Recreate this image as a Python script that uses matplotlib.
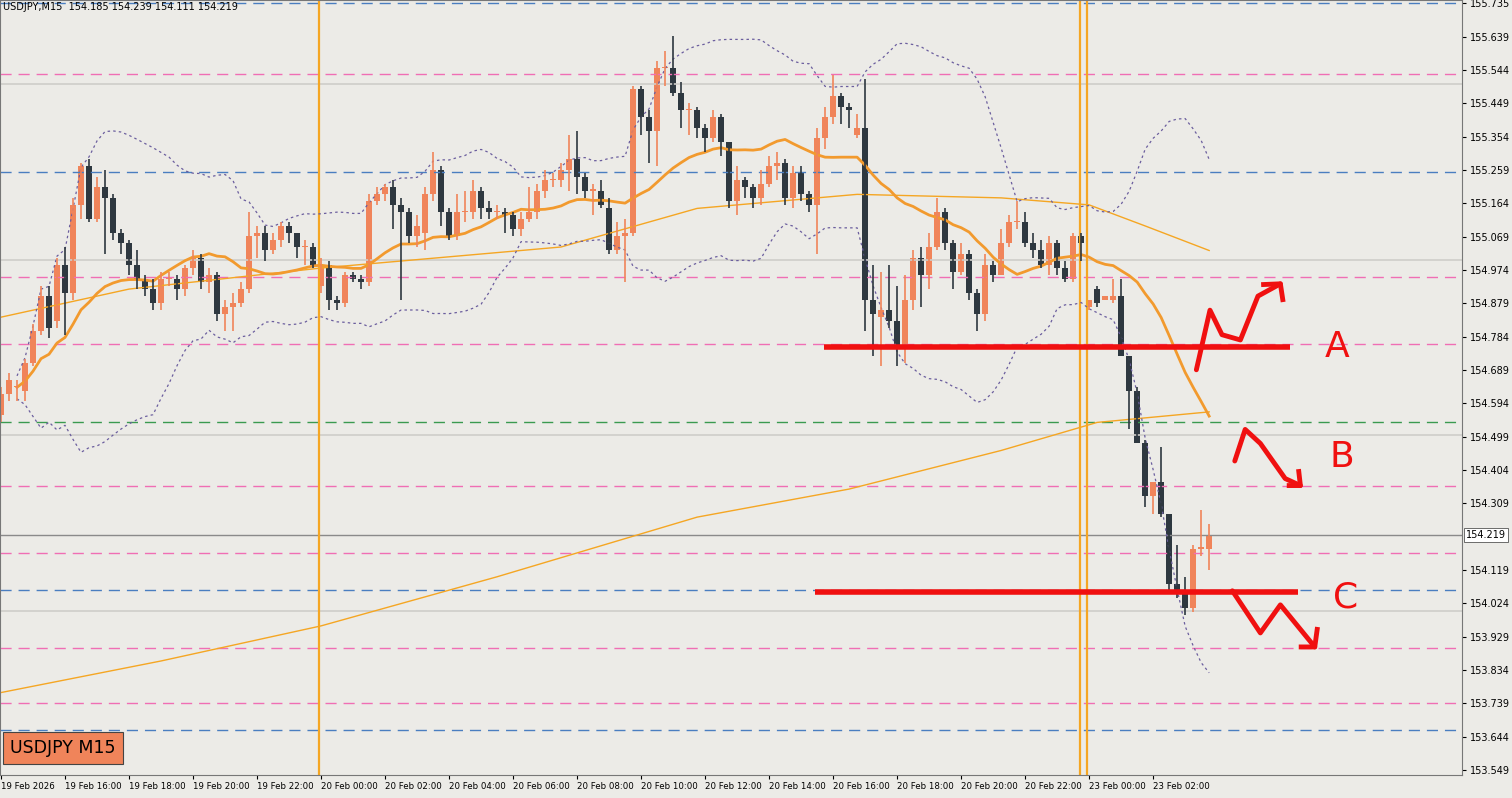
import numpy as np
import pandas as pd
import matplotlib
matplotlib.use("Agg")
import matplotlib.pyplot as plt

# M15 candles from 19 Feb 2026 14:00, index k (weekend gap removed)
opens = [154.56,154.62,154.64,154.63,154.71,154.80,154.90,154.83,154.99,154.91,
         155.16,155.27,155.12,155.21,155.18,155.08,155.05,154.99,154.95,154.92,
         154.88,154.95,154.95,154.92,154.98,155.01,154.94,154.96,154.85,154.87,
         154.88,154.92,155.07,155.08,155.03,155.06,155.10,155.08,155.04,155.04,
         154.93,154.99,154.89,154.88,154.96,154.95,154.94,155.17,155.19,155.21,
         155.16,155.14,155.07,155.08,155.19,155.26,155.14,155.07,155.14,155.14,
         155.20,155.15,155.14,155.14,155.13,155.09,155.12,155.14,155.20,155.23,
         155.23,155.26,155.29,155.24,155.20,155.20,155.15,155.03,155.07,155.08,
         155.49,155.41,155.37,155.55,155.55,155.48,155.43,155.43,155.38,155.35,
         155.41,155.34,155.17,155.23,155.21,155.18,155.22,155.27,155.28,155.18,
         155.25,155.19,155.16,155.35,155.41,155.47,155.44,155.36,155.38,154.89,
         154.84,154.86,154.83,154.75,154.89,155.01,154.96,155.04,155.14,155.05,
         154.97,155.02,154.91,154.85,154.99,154.96,155.05,155.11,155.11,155.05,
         155.03,154.99,155.05,154.98,154.95,155.07,154.87,154.92,154.89,154.89,
         154.90,154.73,154.63,154.48,154.33,154.37,154.28,154.08,154.05,154.01,
         154.18,154.18]
closes = [154.62,154.66,154.64,154.71,154.80,154.90,154.81,154.99,154.91,155.16,
          155.27,155.12,155.21,155.18,155.08,155.05,154.99,154.95,154.92,154.88,
          154.95,154.95,154.92,154.98,155.01,154.94,154.96,154.85,154.87,154.88,
          154.92,155.07,155.08,155.03,155.06,155.10,155.08,155.04,155.04,154.99,
          154.99,154.89,154.88,154.96,154.95,154.94,155.17,155.19,155.21,155.16,
          155.14,155.07,155.10,155.19,155.26,155.14,155.07,155.14,155.14,155.20,
          155.15,155.14,155.14,155.13,155.09,155.12,155.14,155.20,155.23,155.23,
          155.26,155.29,155.24,155.20,155.20,155.16,155.03,155.07,155.08,155.49,
          155.41,155.37,155.55,155.55,155.48,155.43,155.43,155.38,155.35,155.41,
          155.34,155.17,155.23,155.21,155.18,155.22,155.27,155.28,155.18,155.25,
          155.19,155.16,155.35,155.41,155.47,155.44,155.43,155.38,154.89,154.85,
          154.86,154.83,154.75,154.89,155.01,154.96,155.04,155.14,155.05,154.97,
          155.02,154.91,154.85,154.99,154.96,155.05,155.11,155.11,155.05,155.03,
          154.99,155.05,154.98,154.95,155.07,155.05,154.89,154.88,154.90,154.90,
          154.73,154.63,154.48,154.33,154.37,154.28,154.08,154.05,154.01,154.18,
          154.18,154.219]
highs = [154.64,154.68,154.66,154.72,154.82,154.93,154.93,155.01,155.04,155.18,
         155.28,155.29,155.24,155.26,155.19,155.09,155.06,155.03,154.96,154.95,
         154.97,154.97,154.96,154.99,155.03,155.02,154.98,154.97,154.89,154.91,
         154.94,155.14,155.10,155.10,155.08,155.11,155.11,155.08,155.06,155.05,
         155.01,155.00,154.90,154.97,154.97,154.96,155.19,155.21,155.22,155.23,
         155.18,155.15,155.13,155.21,155.31,155.27,155.15,155.19,155.20,155.23,
         155.21,155.17,155.16,155.15,155.14,155.14,155.21,155.22,155.26,155.25,
         155.28,155.36,155.37,155.25,155.22,155.23,155.18,155.11,155.12,155.50,
         155.50,155.43,155.57,155.60,155.64,155.51,155.45,155.44,155.39,155.43,
         155.42,155.34,155.27,155.24,155.22,155.26,155.30,155.31,155.29,155.27,
         155.27,155.20,155.38,155.44,155.53,155.48,155.45,155.42,155.52,154.99,
         154.97,154.99,154.93,154.96,155.03,155.04,155.08,155.18,155.15,155.06,
         155.05,155.03,154.92,155.02,155.00,155.09,155.13,155.17,155.14,155.08,
         155.06,155.07,155.06,155.00,155.08,155.08,154.89,154.93,154.90,154.95,
         154.95,154.73,154.64,154.49,154.37,154.47,154.28,154.19,154.10,154.19,
         154.29,154.25]
lows = [154.54,154.60,154.60,154.60,154.70,154.79,154.78,154.81,154.79,154.89,
        155.12,155.11,155.11,155.02,155.06,155.02,154.96,154.92,154.90,154.86,
        154.86,154.93,154.89,154.90,154.96,154.92,154.91,154.83,154.80,154.80,
        154.87,154.91,155.01,155.00,155.02,155.04,155.05,155.01,154.99,154.98,
        154.91,154.86,154.86,154.87,154.94,154.92,154.93,155.16,155.17,155.09,
        154.89,155.05,155.04,155.03,155.17,155.10,155.06,155.06,155.11,155.12,
        155.12,155.12,155.12,155.08,155.07,155.07,155.11,155.12,155.18,155.21,
        155.21,155.20,155.19,155.18,155.13,155.15,155.02,155.02,154.94,155.07,
        155.36,155.28,155.27,155.50,155.47,155.38,155.36,155.35,155.31,155.34,
        155.30,155.15,155.13,155.18,155.15,155.16,155.21,155.23,155.16,155.15,
        155.17,155.14,155.02,155.32,155.39,155.39,155.38,155.35,154.80,154.73,
        154.70,154.81,154.70,154.71,154.86,154.87,154.92,155.03,155.03,154.92,
        154.96,154.89,154.80,154.83,154.94,154.96,155.04,155.09,155.04,155.01,
        154.98,154.96,154.96,154.94,154.94,155.00,154.86,154.87,154.89,154.88,
        154.73,154.52,154.48,154.30,154.28,154.27,154.05,154.04,153.99,154.00,
        154.16,154.12]

# longer moving averages at a few candle indexes
ma_mid_k = [0, 16, 40, 70, 87, 107, 125, 136, 143, 151]
ma_mid_v = [154.84, 154.92, 154.98, 155.04, 155.15, 155.19, 155.18, 155.16, 155.10, 155.03]
ma_long_k = [0, 20, 40, 62, 87, 106, 125, 137, 151]
ma_long_v = [153.77, 153.86, 153.96, 154.10, 154.27, 154.35, 154.46, 154.54, 154.57]

pink_levels = [155.533, 154.954, 154.764, 154.359, 154.168, 153.897, 153.741]
blue_levels = [155.735, 155.254, 154.063, 153.664]
green_levels = [154.541]
gray_levels = [155.504, 155.003, 154.504, 154.003]
last_price = 154.219
price_ticks = [155.735, 155.639, 155.544, 155.449, 155.354, 155.259, 155.164, 155.069,
               154.974, 154.879, 154.784, 154.689, 154.594, 154.499, 154.404, 154.309,
               154.119, 154.024, 153.929, 153.834, 153.739, 153.644, 153.549]
vlines_k = [39.75, 134.9, 135.75]

level_a = 154.755
level_c = 154.057
arrow_a_k = [149.4, 151.1, 152.6, 154.9, 157.1, 159.9]
arrow_a_p = [154.69, 154.86, 154.79, 154.775, 154.90, 154.935]
arrow_b_k = [154.2, 155.5, 157.4, 160.5, 162.4]
arrow_b_p = [154.43, 154.52, 154.48, 154.38, 154.36]
arrow_c_k = [153.9, 157.4, 159.9, 164.2]
arrow_c_p = [154.06, 153.94, 154.02, 153.90]

BG = "#ECEBE7"
BULL = "#F0845A"
BEAR = "#2E3840"
ORANGE = "#F29A2E"

closes_s = pd.Series(closes)
sma20 = closes_s.rolling(20, min_periods=3).mean()
sd20 = closes_s.rolling(20, min_periods=3).std(ddof=0)

fig = plt.figure(figsize=(15.12, 7.98), dpi=100, facecolor=BG)
ax = fig.add_axes([0, 23 / 798, 1462 / 1512, 775 / 798])
ax.set_facecolor(BG)
ax.set_xlim(-0.125, 182.6)
ax.set_ylim(153.535, 155.744)

for p in gray_levels:
    ax.axhline(p, color="#CFCDC9", lw=1.2)
ax.axhline(last_price, color="#8A8A8A", lw=1)
for p in pink_levels:
    ax.axhline(p, color="#F06EB4", lw=1, ls=(0, (8, 5)))
for p in blue_levels:
    ax.axhline(p, color="#4A7EC0", lw=1, ls=(0, (8, 5)))
for p in green_levels:
    ax.axhline(p, color="#3A9A50", lw=1, ls=(0, (8, 5)))
for k in vlines_k:
    ax.axvline(k, color="#F5A623", lw=1.6)

ks = np.arange(len(closes))
ax.plot(ma_long_k, ma_long_v, color="#F5A623", lw=1)
ax.plot(ma_mid_k, ma_mid_v, color="#F5A623", lw=1)
ax.plot(ks, sma20 + 2 * sd20, color="#6B5E9E", lw=0.9, ls=(0, (2, 2.5)))
ax.plot(ks, sma20 - 2 * sd20, color="#6B5E9E", lw=0.9, ls=(0, (2, 2.5)))
ax.plot(ks, sma20, color=ORANGE, lw=2)

for k in ks:
    o, c, h, l = opens[k], closes[k], highs[k], lows[k]
    col = BULL if c >= o else BEAR
    ax.vlines(k, l, h, color=col, lw=1.2)
    ax.bar(k, max(abs(c - o), 0.004), bottom=min(o, c), width=0.7, color=col)

ax.hlines(level_a, 102.9, 161.1, color="#F01010", lw=4)
ax.hlines(level_c, 101.7, 162.1, color="#F01010", lw=4)
for xs, ys in [(arrow_a_k, arrow_a_p), (arrow_b_k, arrow_b_p), (arrow_c_k, arrow_c_p)]:
    ax.plot(xs, ys, color="#F01010", lw=3.5, solid_capstyle="round", solid_joinstyle="round")
ax.plot([157.8, 159.9, 160.2], [154.933, 154.935, 154.89], color="#F01010", lw=3.5)
ax.plot([161.0, 162.4, 162.2], [154.36, 154.36, 154.40], color="#F01010", lw=3.5)
ax.plot([162.5, 164.2, 164.5], [153.90, 153.90, 153.95], color="#F01010", lw=3.5)
ax.text(165.5, level_a, "A", color="#F01010", fontsize=26, va="center")
ax.text(166.0, 154.44, "B", color="#F01010", fontsize=26, va="center")
ax.text(166.5, 154.04, "C", color="#F01010", fontsize=26, va="center")

# time axis
times = pd.date_range("2026-02-19 14:00", periods=len(closes), freq="15min")
times = times.where(times < pd.Timestamp("2026-02-21"), times + pd.Timedelta(days=2))
tick_k = list(range(0, len(closes), 8))
tick_lab = ["19 Feb 2026" if k == 0 else times[k].strftime("%d Feb %H:%M") for k in tick_k]
ax.set_xticks(tick_k)
ax.set_xticklabels(tick_lab, fontsize=6.2, ha="left")
ax.tick_params(axis="x", length=3, pad=2)

ax.yaxis.tick_right()
ax.set_yticks(price_ticks)
ax.set_yticklabels([f"{p:.3f}" for p in price_ticks], fontsize=7)
ax.tick_params(axis="y", length=3, pad=3)
ax.text(1.003, (last_price - 153.535) / (155.744 - 153.535), f"{last_price:.3f}",
        transform=ax.transAxes, fontsize=7, va="center", ha="left",
        bbox=dict(boxstyle="square,pad=0.2", fc="white", ec="#555555", lw=0.6))
for s in ax.spines.values():
    s.set_color("#777777")

ax.text(0.002, 0.997, "USDJPY,M15  154.185 154.239 154.111 154.219", transform=ax.transAxes,
        fontsize=7, va="top", ha="left")
ax.text(0.007, 0.035, "USDJPY M15", transform=ax.transAxes, fontsize=12.5, va="center",
        ha="left", bbox=dict(boxstyle="square,pad=0.4", fc=BULL, ec="#444444", lw=0.8))

fig.savefig("out.png", dpi=100, facecolor=BG)
